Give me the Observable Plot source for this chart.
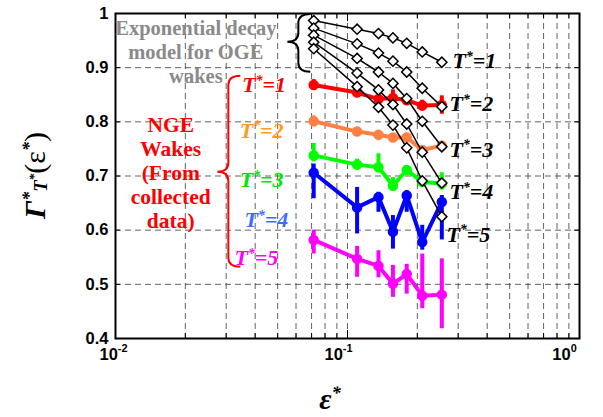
<!DOCTYPE html>
<html><head><meta charset="utf-8">
<script src="https://cdn.jsdelivr.net/npm/d3@7"></script>
<script src="https://cdn.jsdelivr.net/npm/@observablehq/plot@0.6"></script>
<style>body{margin:0;background:#fff}</style>
</head><body><div id="chart"></div>
<script>
// ---------- data ----------
const epsStar = [0.0715, 0.110, 0.136, 0.157, 0.180, 0.210, 0.255];
const tStar = [1, 2, 3, 4, 5];

// NGE wakes (collected data)
const nge1 = [0.868, 0.854, 0.842, 0.844, 0.840, 0.830, 0.831];
const nge1Lo = [0.010, 0.005, 0.008, 0.015, 0.006, 0.010, 0.017];
const nge1Hi = [0.010, 0.005, 0.008, 0.015, 0.006, 0.010, 0.017];
const nge2 = [0.801, 0.782, 0.776, 0.771, 0.771, 0.748, 0.756];
const nge2Lo = [0.010, 0.007, 0.006, 0.005, 0.008, 0.008, 0.008];
const nge2Hi = [0.010, 0.007, 0.006, 0.005, 0.008, 0.008, 0.008];
const nge3 = [0.738, 0.721, 0.716, 0.682, 0.711, 0.689, 0.686];
const nge3Lo = [0.012, 0.010, 0.009, 0.010, 0.010, 0.006, 0.012];
const nge3Hi = [0.022, 0.010, 0.025, 0.015, 0.008, 0.006, 0.020];
const nge4 = [0.706, 0.642, 0.661, 0.597, 0.664, 0.578, 0.652];
const nge4Lo = [0.048, 0.049, 0.028, 0.032, 0.031, 0.015, 0.070];
const nge4Hi = [0.016, 0.037, 0.009, 0.030, 0.009, 0.031, 0.012];
const nge5 = [0.582, 0.547, 0.534, 0.501, 0.519, 0.479, 0.481];
const nge5Lo = [0.026, 0.034, 0.022, 0.025, 0.037, 0.024, 0.063];
const nge5Hi = [0.018, 0.023, 0.028, 0.034, 0.018, 0.077, 0.066];

// Exponential decay model for OGE wakes
const oge1 = [0.987, 0.971, 0.963, 0.955, 0.945, 0.929, 0.910];
const oge2 = [0.973, 0.944, 0.927, 0.912, 0.892, 0.862, 0.828];
const oge3 = [0.960, 0.917, 0.892, 0.871, 0.843, 0.801, 0.754];
const oge4 = [0.947, 0.890, 0.859, 0.832, 0.796, 0.744, 0.687];
const oge5 = [0.935, 0.865, 0.827, 0.794, 0.752, 0.691, 0.625];

// ticks
const yTicks = [0.4, 0.5, 0.6, 0.7, 0.8, 0.9, 1];
const yTickLabels = ["0.4", "0.5", "0.6", "0.7", "0.8", "0.9", "1"];
const xMajor = [0.01, 0.1, 1];
const xMajorLabels = ["10^{-2}", "10^{-1}", "10^{0}"];
const xMinor = [0.02, 0.03, 0.04, 0.05, 0.06, 0.07, 0.08, 0.09, 0.2, 0.3, 0.4, 0.5, 0.6, 0.7, 0.8, 0.9];

// annotation text & anchors (data coordinates)
const seriesLabels = ["T^{*}=1", "T^{*}=2", "T^{*}=3", "T^{*}=4", "T^{*}=5"];
const leftLabelEps = [0.0352, 0.0343, 0.0343, 0.0360, 0.0326];
const leftLabelGamma = [0.868, 0.784, 0.692, 0.618, 0.548];
const rightLabelEps = [0.2835, 0.2752, 0.2752, 0.2752, 0.2672];
const rightLabelGamma = [0.912, 0.833, 0.749, 0.670, 0.592];
const noteTexts = ["Exponential decay\nmodel for OGE\nwakes", "NGE\nWakes\n(From\ncollected\ndata)"];
const noteEps = [0.0222, 0.0173];
const noteGamma = [0.931, 0.7066];
const braceEps = [0.0617, 0.0308];
const braceTop = [0.998, 0.884];
const braceMid = [0.947, 0.707];
const braceBottom = [0.8915, 0.5316];

// ---------- style ----------
const lineColors = ["#ff0000", "#ff8040", "#00ff00", "#0000ff", "#ff00ff"];
const labelColors = ["#ff0000", "#ff9a1a", "#00e600", "#3b6cff", "#ff00ff"];
const noteColors = ["#8a8a8a", "#ff0000"];
const noteSizes = [20.5, 21.5];
const braceColors = ["#000000", "#ff0000"];
const xLabelDx = [-2, -9, -15];
const SERIF = "Liberation Serif, Times New Roman, serif";
const SANS = "Liberation Sans, Arial, sans-serif";
const W = 603, H = 417, ML = 115, MR = 24, MT = 13, MB = 79;
const FW = W - ML - MR, FH = H - MT - MB;
const LABEL_FS = 22;
const TICK_FS = 16.5;

const ngeVals = [nge1, nge2, nge3, nge4, nge5];
const ngeLo = [nge1Lo, nge2Lo, nge3Lo, nge4Lo, nge5Lo];
const ngeHi = [nge1Hi, nge2Hi, nge3Hi, nge4Hi, nge5Hi];
const ogeVals = [oge1, oge2, oge3, oge4, oge5];

const ngeRows = tStar.map((T, i) => epsStar.map((e, j) => ({
  eps: e, T, g: ngeVals[i][j], lo: ngeVals[i][j] - ngeLo[i][j], hi: ngeVals[i][j] + ngeHi[i][j]
})));
const ogeRows = tStar.map((T, i) => epsStar.map((e, j) => ({eps: e, T, g: ogeVals[i][j]})));

const marks = [
  Plot.ruleY(yTicks.slice(1, -1), {y: d => d, stroke: "#3a3a3a", strokeWidth: 0.8, strokeDasharray: "6,4"}),
  Plot.ruleX(xMinor.concat([0.1]), {x: d => d, stroke: "#3a3a3a", strokeWidth: 0.8, strokeDasharray: "6,4"})
];
ngeRows.forEach((rows, i) => {
  marks.push(Plot.line(rows, {x: "eps", y: "g", stroke: lineColors[i], strokeWidth: 4}));
  marks.push(Plot.ruleX(rows, {x: "eps", y1: "lo", y2: "hi", stroke: lineColors[i], strokeWidth: 4}));
  marks.push(Plot.dot(rows, {x: "eps", y: "g", r: 4.5, fill: lineColors[i], stroke: lineColors[i]}));
});
ogeRows.forEach(rows => {
  marks.push(Plot.line(rows, {x: "eps", y: "g", stroke: "#000", strokeWidth: 1.5}));
  marks.push(Plot.dot(rows, {x: "eps", y: "g", symbol: "diamond2", r: 4.6, fill: "#fff", stroke: "#000", strokeWidth: 1.5}));
});
// ticks (inward)
marks.push(
  Plot.tickY(yTicks, {y: d => d, insetRight: FW - 5, stroke: "#000", strokeWidth: 1}),
  Plot.tickY(yTicks, {y: d => d, insetLeft: FW - 5, stroke: "#000", strokeWidth: 1}),
  Plot.tickX(xMinor, {x: d => d, insetTop: FH - 5, stroke: "#000", strokeWidth: 1}),
  Plot.tickX(xMinor, {x: d => d, insetBottom: FH - 5, stroke: "#000", strokeWidth: 1}),
  Plot.tickX(xMajor, {x: d => d, insetTop: FH - 8, stroke: "#000", strokeWidth: 1}),
  Plot.tickX(xMajor, {x: d => d, insetBottom: FH - 8, stroke: "#000", strokeWidth: 1}),
  Plot.frame({stroke: "#000", strokeWidth: 2})
);
// tick labels
marks.push(
  Plot.text(yTicks, {y: d => d, text: (d, i) => yTickLabels[i], frameAnchor: "left", dx: -7, textAnchor: "end",
    fontSize: TICK_FS, fontWeight: "bold", fontFamily: SANS, fill: "#000"})
);
xMajor.forEach((v, i) => marks.push(
  Plot.text([v], {x: d => d, text: () => xMajorLabels[i], frameAnchor: "bottom", dy: 21, dx: xLabelDx[i],
    fontSize: TICK_FS, fontWeight: "bold", fontFamily: SANS, fill: "#000", className: "tickrich"})
));
// annotations
noteTexts.forEach((s, i) => marks.push(
  Plot.text([s], {x: [noteEps[i]], y: [noteGamma[i]], text: d => d, fill: noteColors[i], fontSize: noteSizes[i],
    lineHeight: 24 / noteSizes[i], fontWeight: "bold", fontFamily: SERIF, textAnchor: "middle"})
));
marks.push(
  Plot.text(seriesLabels, {x: leftLabelEps, y: leftLabelGamma, text: d => d, fill: (d, i) => labelColors[i],
    fontSize: LABEL_FS, fontWeight: "bold", fontStyle: "italic", fontFamily: SERIF, textAnchor: "start", className: "rich"}),
  Plot.text(seriesLabels, {x: rightLabelEps, y: rightLabelGamma, text: d => d, fill: "#000",
    fontSize: LABEL_FS, fontWeight: "bold", fontStyle: "italic", fontFamily: SERIF, textAnchor: "start", className: "rich"})
);

const plot = Plot.plot({
  width: W, height: H, marginLeft: ML, marginRight: MR, marginTop: MT, marginBottom: MB,
  x: {type: "log", domain: [0.01, 1], axis: null},
  y: {domain: [0.4, 1], axis: null},
  color: {type: "identity"},
  style: {background: "#fff", overflow: "visible"},
  marks
});
document.getElementById("chart").appendChild(plot);

// ---------- rich text (super/subscripts) ----------
const NS = "http://www.w3.org/2000/svg";
function setRich(t, markup, fs, opt = {}) {
  const supS = opt.supS ?? 0.6, supY = opt.supY ?? -0.35;
  const re = /\^\{([^}]*)\}|_\{([^}]*)\}|~\{([^}]*)\}|([^^_~]+)/g;
  while (t.firstChild) t.removeChild(t.firstChild);
  let cur = 0, m;
  while ((m = re.exec(markup))) {
    let str, size = fs, off = 0, extra = {};
    if (m[1] !== undefined) { str = m[1]; size = fs * supS; off = supY * fs; }
    else if (m[2] !== undefined) { str = m[2]; size = fs * 0.62; off = 0.08 * fs; }
    else if (m[3] !== undefined) { str = m[3]; size = fs * 0.45; off = -0.22 * fs; }
    else { str = m[4]; extra = opt.normalStyle ? opt.normalStyle(str) : {}; }
    const ts = document.createElementNS(NS, "tspan");
    ts.textContent = str;
    if (size !== fs) ts.setAttribute("font-size", size);
    if (off !== cur) ts.setAttribute("dy", off - cur);
    for (const k in extra) ts.setAttribute(k, extra[k]);
    cur = off;
    t.appendChild(ts);
  }
}
plot.querySelectorAll("g.rich text").forEach(t => setRich(t, t.textContent, LABEL_FS, {supS: 0.62, supY: -0.34}));
plot.querySelectorAll("g.tickrich text").forEach(t => setRich(t, t.textContent, TICK_FS, {supS: 0.66, supY: -0.48}));

// ---------- braces & axis titles ----------
const xs = plot.scale("x"), ys = plot.scale("y");
const svg = d3.select(plot);
braceEps.forEach((e, i) => {
  const xl = xs.apply(e), y0 = ys.apply(braceTop[i]), ym = ys.apply(braceMid[i]), y1 = ys.apply(braceBottom[i]);
  const tip = xl - 11, end = xl + 12, r = 9;
  svg.append("path")
    .attr("d", `M${end},${y0}Q${xl},${y0} ${xl},${y0 + r}L${xl},${ym - r}Q${xl},${ym} ${tip},${ym}` +
               `Q${xl},${ym} ${xl},${ym + r}L${xl},${y1 - r}Q${xl},${y1} ${end},${y1}`)
    .attr("fill", "none").attr("stroke", braceColors[i]).attr("stroke-width", 2);
});
const yTitle = svg.append("text")
  .attr("transform", `translate(${ML - 70},${(MT + H - MB) / 2}) rotate(-90)`)
  .attr("text-anchor", "middle").attr("font-family", SERIF).attr("font-weight", "bold")
  .attr("font-style", "italic").attr("font-size", 30).attr("fill", "#000");
setRich(yTitle.node(), "Γ^{*}_{T}~{*}(ε^{*})", 30, {normalStyle: s => /[()]/.test(s) ? {"font-style": "normal", "font-weight": "normal"} : {}});
const xTitle = svg.append("text")
  .attr("transform", `translate(${ML + FW / 2 - 17},${H - 8})`)
  .attr("text-anchor", "middle").attr("font-family", SERIF).attr("font-weight", "bold")
  .attr("font-style", "italic").attr("font-size", 30).attr("fill", "#000");
setRich(xTitle.node(), "ε^{*}", 30);
</script>
</body></html>
